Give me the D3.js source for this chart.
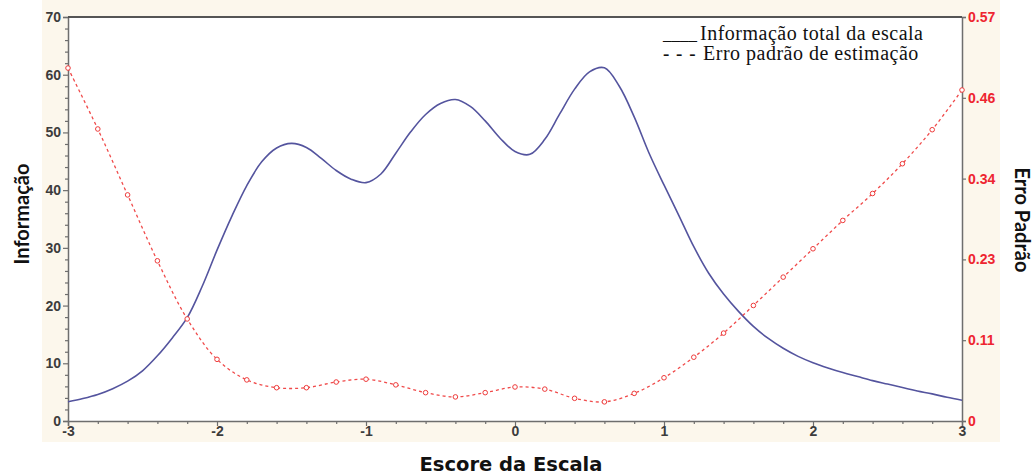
<!DOCTYPE html>
<html>
<head>
<meta charset="utf-8">
<script src="https://cdn.jsdelivr.net/npm/d3@7"></script>
<style>
  html, body { margin: 0; padding: 0; background: #ffffff; }
  svg { display: block; }
</style>
</head>
<body>
<svg id="chart" width="1035" height="475"></svg>
<script>
// ---- data ----
const infoScores = [-3.0,-2.9,-2.8,-2.7,-2.6,-2.5,-2.4,-2.3,-2.2,-2.1,-2.0,-1.9,-1.8,-1.7,-1.6,-1.5,-1.4,-1.3,-1.2,-1.1,-1.0,-0.9,-0.8,-0.7,-0.6,-0.5,-0.4,-0.3,-0.2,-0.1,0.0,0.1,0.2,0.3,0.4,0.5,0.6,0.7,0.8,0.9,1.0,1.1,1.2,1.3,1.4,1.5,1.6,1.7,1.8,1.9,2.0,2.1,2.2,2.3,2.4,2.5,2.6,2.7,2.8,2.9,3.0];
const infoValues = [3.35,3.9,4.6,5.6,6.9,8.7,11.3,14.4,17.9,23.3,29.6,35.5,40.8,44.9,47.3,48.1,47.4,45.5,43.4,41.9,41.3,42.8,46.4,50.1,53.1,55.0,55.7,54.5,52.0,49.0,46.7,46.2,48.8,53.2,57.5,60.5,61.2,58.0,52.7,46.4,40.9,35.6,30.2,25.6,22.0,19.0,16.4,14.3,12.6,11.2,10.1,9.2,8.4,7.7,7.0,6.4,5.8,5.2,4.7,4.1,3.6];
const seScores = [-3.0,-2.8,-2.6,-2.4,-2.2,-2.0,-1.8,-1.6,-1.4,-1.2,-1.0,-0.8,-0.6,-0.4,-0.2,0.0,0.2,0.4,0.6,0.8,1.0,1.2,1.4,1.6,1.8,2.0,2.2,2.4,2.6,2.8,3.0];
const seValues = [0.498,0.412,0.319,0.226,0.144,0.087,0.058,0.047,0.047,0.055,0.059,0.051,0.040,0.034,0.040,0.048,0.045,0.032,0.027,0.039,0.061,0.090,0.124,0.163,0.203,0.243,0.283,0.321,0.363,0.411,0.467];

const xTicks = [-3,-2,-1,0,1,2,3];
const xTickLabels = ["-3","-2","-1","0","1","2","3"];
const xMinorTicks = [-2.8,-2.6,-2.4,-2.2,-1.8,-1.6,-1.4,-1.2,-0.8,-0.6,-0.4,-0.2,0.2,0.4,0.6,0.8,1.2,1.4,1.6,1.8,2.2,2.4,2.6,2.8];
const leftTicks = [0,10,20,30,40,50,60,70];
const leftMinorTicks = [2,4,6,8,12,14,16,18,22,24,26,28,32,34,36,38,42,44,46,48,52,54,56,58,62,64,66,68];
const rightTicks = [0,0.114,0.228,0.342,0.456,0.57];
const rightTickLabels = ["0","0.11","0.23","0.34","0.46","0.57"];

const xTitle = "Escore da Escala";
const leftTitle = "Informação";
const rightTitle = "Erro Padrão";
const legendLabels = ["Informação total da escala", "Erro padrão de estimação"];
const legendSymbols = ["____", "- - -"];

// ---- layout ----
const svg = d3.select("#chart");
const L = 68, R = 962, T = 17, B = 421;

const x = d3.scaleLinear().domain([-3, 3]).range([L, R]);
const yL = d3.scaleLinear().domain([0, 70]).range([B, T]);
const yR = d3.scaleLinear().domain([0, 0.57]).range([B, T]);

// cream frame background
svg.append("rect").attr("x", 42).attr("y", 0).attr("width", 958).attr("height", 442)
  .attr("fill", "#fcf7ec");
svg.append("rect").attr("x", L).attr("y", T).attr("width", R - L).attr("height", B - T)
  .attr("fill", "#ffffff");

const tickFont = "'Liberation Sans Narrow', 'Arial Narrow', 'Liberation Sans', sans-serif";
const axisColor = "#6e6e6e";

// left axis
const gL = svg.append("g").attr("transform", `translate(${L},0)`)
  .call(d3.axisLeft(yL).tickValues(leftTicks).tickSize(5).tickPadding(2).tickFormat(d3.format("d")));
svg.append("g").attr("transform", `translate(${L},0)`)
  .call(d3.axisLeft(yL).tickValues(leftMinorTicks).tickSize(3).tickFormat(""))
  .call(g => g.select(".domain").remove());

// bottom axis
const gB = svg.append("g").attr("transform", `translate(0,${B})`)
  .call(d3.axisBottom(x).tickValues(xTicks).tickSize(5).tickPadding(2)
    .tickFormat((d, i) => xTickLabels[i]));
svg.append("g").attr("transform", `translate(0,${B})`)
  .call(d3.axisBottom(x).tickValues(xMinorTicks).tickSize(3).tickFormat(""))
  .call(g => g.select(".domain").remove());

// right axis
const gR = svg.append("g").attr("transform", `translate(${R},0)`)
  .call(d3.axisRight(yR).tickValues(rightTicks).tickSize(4).tickPadding(2)
    .tickFormat((d, i) => rightTickLabels[i]));

svg.selectAll(".domain").attr("stroke", axisColor).attr("stroke-width", 1.5);
svg.selectAll(".tick line").attr("stroke", axisColor).attr("stroke-width", 1.2);
[gL, gB].forEach(g => g.selectAll("text")
  .attr("font-family", tickFont).attr("font-weight", "bold").attr("font-size", 14)
  .attr("fill", "#3c3c3c"));
gB.selectAll("text").attr("dy", "0.6em");
gR.selectAll("text")
  .attr("font-family", tickFont).attr("font-weight", "bold").attr("font-size", 14)
  .attr("fill", "#ee2530");

// top border
svg.append("line").attr("x1", L).attr("x2", R).attr("y1", T).attr("y2", T)
  .attr("stroke", "#555555").attr("stroke-width", 2);

// info line
const infoData = infoScores.map((s, i) => ({ s, v: infoValues[i] }));
svg.append("path").datum(infoData)
  .attr("fill", "none").attr("stroke", "#54549e").attr("stroke-width", 1.6)
  .attr("d", d3.line().x(d => x(d.s)).y(d => yL(d.v)).curve(d3.curveCatmullRom.alpha(0.5)));

// SE line
const seData = seScores.map((s, i) => ({ s, v: seValues[i] }));
svg.append("path").datum(seData)
  .attr("fill", "none").attr("stroke", "#f04a4a").attr("stroke-width", 1.3)
  .attr("stroke-dasharray", "3,3")
  .attr("d", d3.line().x(d => x(d.s)).y(d => yR(d.v)).curve(d3.curveCatmullRom.alpha(0.5)));
svg.append("g").selectAll("circle").data(seData).join("circle")
  .attr("cx", d => x(d.s)).attr("cy", d => yR(d.v)).attr("r", 2.3)
  .attr("fill", "#ffffff").attr("stroke", "#ee3b3b").attr("stroke-width", 1);

// axis titles
svg.append("text").attr("x", 511).attr("y", 471).attr("text-anchor", "middle")
  .attr("font-family", "'DejaVu Sans', sans-serif").attr("font-weight", 700).attr("font-size", 19.5)
  .attr("fill", "#111").text(xTitle);
svg.append("text").attr("transform", "translate(29,214) rotate(-90)").attr("text-anchor", "middle")
  .attr("font-family", "Lato, sans-serif").attr("font-weight", 700).attr("font-size", 20)
  .attr("fill", "#111").text(leftTitle);
svg.append("text").attr("transform", "translate(1015,220) rotate(90)").attr("text-anchor", "middle")
  .attr("font-family", "Lato, sans-serif").attr("font-weight", 700).attr("font-size", 20)
  .attr("fill", "#111").text(rightTitle);

// legend
const legY = [40, 60];
legendLabels.forEach((lab, i) => {
  svg.append("text").attr("x", 663).attr("y", legY[i])
    .attr("font-family", "'Liberation Serif', 'Times New Roman', serif").attr("font-size", i === 0 ? 17 : 19)
    .attr("font-weight", i === 1 ? "bold" : "normal")
    .attr("letter-spacing", i === 1 ? 1 : 0)
    .attr("fill", "#111").text(legendSymbols[i]);
  svg.append("text").attr("x", i === 0 ? 700 : 703).attr("y", legY[i])
    .attr("font-family", "'Liberation Serif', 'Times New Roman', serif").attr("font-size", 20)
    .attr("letter-spacing", 0.5)
    .attr("fill", "#111").text(lab);
});
</script>
</body>
</html>
